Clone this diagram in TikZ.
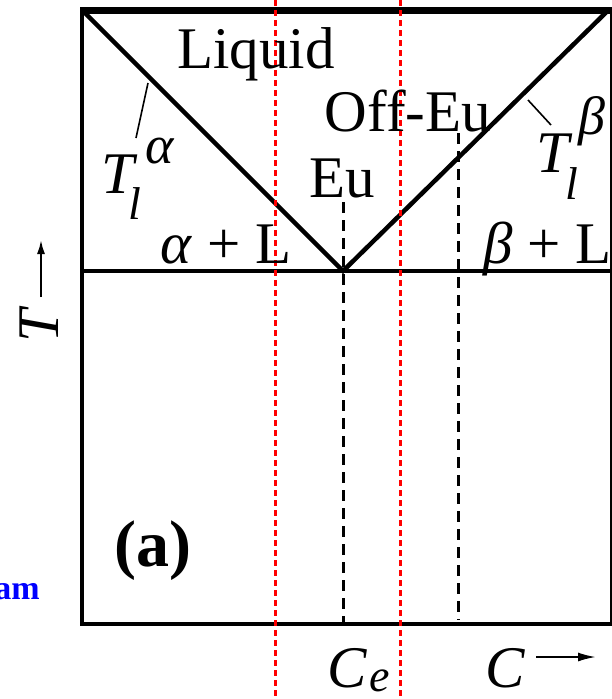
\documentclass[tikz,border=0pt]{standalone}
\usepackage{fontspec}
\setmainfont{Liberation Serif}
\usetikzlibrary{arrows.meta}

\tikzset{
    phaseline/.style={line width=4.5pt},
    reddash/.style={red, line width=2.4pt, dash pattern=on 6pt off 4pt},
    blackdash/.style={line width=3pt, dash pattern=on 11pt off 7pt},
    lbl/.style={inner sep=0pt, font=\fontsize{59}{59}\selectfont},
    small/.style={inner sep=0pt, font=\fontsize{46}{46}\selectfont\itshape},
    greek/.style={inner sep=0pt, font=\fontsize{54}{54}\selectfont\itshape},
}

\begin{document}
\begin{tikzpicture}[x=1pt, y=-1pt]
    \useasboundingbox (0,0) rectangle (611,699);

    % Cadre du diagramme
    \coordinate (tl) at (82,10.5);
    \coordinate (tr) at (612,10.5);
    \coordinate (bl) at (82,624);
    \coordinate (br) at (612,624);
    \coordinate (el) at (82,271);
    \coordinate (er) at (612,271);
    \coordinate (eu) at (343,271);
    \coordinate (lb) at (608,10.5);
    \draw[line width=6.5pt] (80,10.5) -- (tr);
    \draw[phaseline, line cap=rect] (tl) -- (bl) -- (br) -- (tr);
    \draw[phaseline] (el) -- (er);

    % Liquidus
    \draw[phaseline] (84,12) -- (eu) -- (lb);

    % Lignes de composition
    \draw[blackdash] (343,202) -- (343,622);
    \draw[blackdash] (458.5,133) -- (458.5,620);
    \draw[reddash] (275.5,0) -- (275.5,699);
    \draw[reddash] (400.6,0) -- (400.6,699);

    % Etiquettes des phases
    \node[lbl, anchor=base] (liq) at (256,68) {Liquid};
    \node[lbl, anchor=base] (offeu) at (408,131) {Off-Eu};
    \node[lbl, anchor=base] (eutext) at (342,197) {Eu};
    \node[lbl, anchor=base] (alphaL) at (226,263) {\textit{α} + L};
    \node[lbl, anchor=base west] (betaL) at (483,263) {\textit{β} + L};

    % Liquidus alpha
    \node[lbl, anchor=base west] (Ta) at (101,193) {\textit{T}};
    \node[greek, anchor=base west] (Ta-sup) at (145,163) {α};
    \node[small, anchor=base west] (Ta-sub) at (128,219) {l};
    \coordinate (ta1) at (148,83);
    \coordinate (ta2) at (136,138);
    \draw[line width=1.6pt] (ta1) -- (ta2);

    % Liquidus beta
    \node[lbl, anchor=base west] (Tb) at (536,172) {\textit{T}};
    \node[greek, anchor=base west] (Tb-sup) at (578,134) {β};
    \node[small, anchor=base west] (Tb-sub) at (565,199) {l};
    \coordinate (tb1) at (528,100);
    \coordinate (tb2) at (551,125);
    \draw[line width=1.6pt] (tb1) -- (tb2);

    % Axes
    \node[lbl, anchor=base west, rotate=90] (Taxis) at (58,343) {\textit{T}};
    \coordinate (ta) at (41,297);
    \coordinate (tt) at (41,240);
    \draw[line width=2pt, -{Latex[length=14pt, width=8pt]}] (ta) -- (tt);

    \node[lbl, anchor=base west] (Ce) at (327,687) {\textit{C}};
    \node[small, anchor=base west] (Ce-sub) at (369,691) {e};
    \node[lbl, anchor=base west] (Caxis) at (485,687) {\textit{C}};
    \coordinate (ca) at (536,657);
    \coordinate (ct) at (596,657);
    \draw[line width=2pt, -{Latex[length=18pt, width=9pt]}] (ca) -- (ct);

    % Repere de la figure
    \node[inner sep=0pt, anchor=base, font=\fontsize{66}{66}\selectfont\bfseries] (fig) at (153,566) {(a)};
    \node[inner sep=0pt, anchor=base east, blue, font=\fontsize{34}{34}\selectfont\bfseries] (cap) at (40,599) {am};
\end{tikzpicture}
\end{document}
